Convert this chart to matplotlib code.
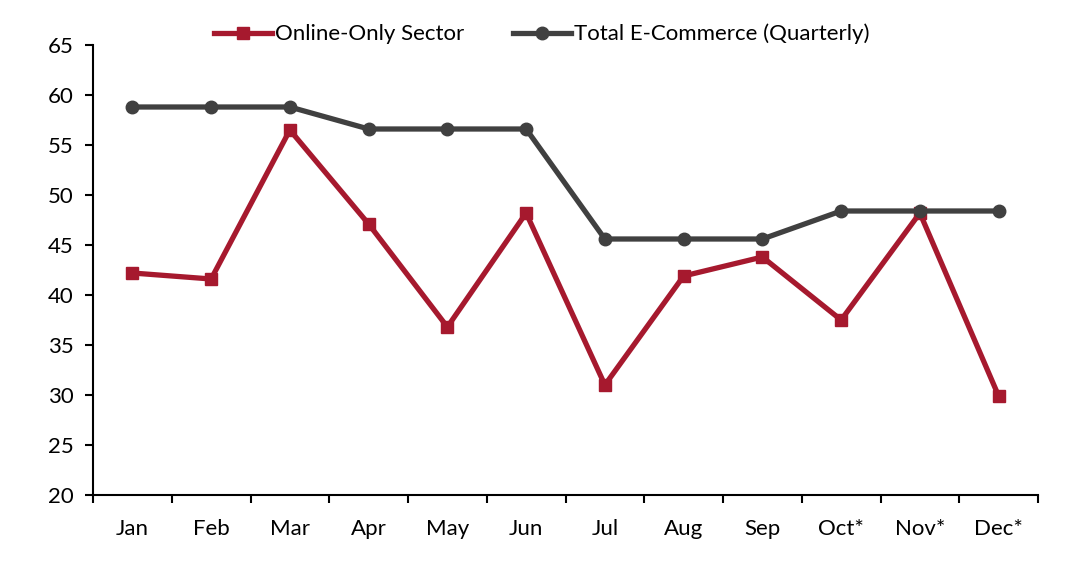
import numpy as np
import matplotlib.pyplot as plt

plt.rcParams['font.family'] = ['Lato', 'DejaVu Sans']

months = ['Jan', 'Feb', 'Mar', 'Apr', 'May', 'Jun', 'Jul', 'Aug', 'Sep', 'Oct*', 'Nov*', 'Dec*']
online_only = [42.2, 41.6, 56.5, 47.1, 36.8, 48.2, 31.0, 41.9, 43.8, 37.5, 48.2, 29.9]
total_ecom = [58.8, 58.8, 58.8, 56.6, 56.6, 56.6, 45.6, 45.6, 45.6, 48.4, 48.4, 48.4]

red = '#A6192E'
grey = '#404040'

fig = plt.figure(figsize=(10.88, 5.62), dpi=100)
ax = fig.add_axes([93/1088, 67/562, (1038-93)/1088, 450/562])

x = np.arange(len(months))
ax.plot(x, online_only, color=red, lw=3.8, marker='s', ms=9, label='Online-Only Sector')
ax.plot(x, total_ecom, color=grey, lw=3.8, marker='o', ms=9, label='Total E-Commerce (Quarterly)')

ax.set_xlim(-0.5, len(months) - 0.5)
ax.set_ylim(20, 65)
ax.set_yticks(range(20, 66, 5))
ax.set_xticks(x)
ax.set_xticklabels(months)
ax.set_xticks(np.arange(-0.5, len(months)), minor=True)
ax.tick_params(axis='x', which='major', length=0, pad=17, labelsize=16)
ax.tick_params(axis='x', which='minor', length=6, width=1.5, direction='out')
ax.tick_params(axis='y', length=6, width=1.5, labelsize=16, pad=8)

for s in ['top', 'right']:
    ax.spines[s].set_visible(False)
for s in ['left', 'bottom']:
    ax.spines[s].set_linewidth(1.5)

fig.legend(loc='center', bbox_to_anchor=(542/1088, 1 - 34/562), ncol=2, frameon=False,
           fontsize=16, handlelength=2.6, handletextpad=0.15, columnspacing=2.2)

fig.savefig('out.png', dpi=100)
